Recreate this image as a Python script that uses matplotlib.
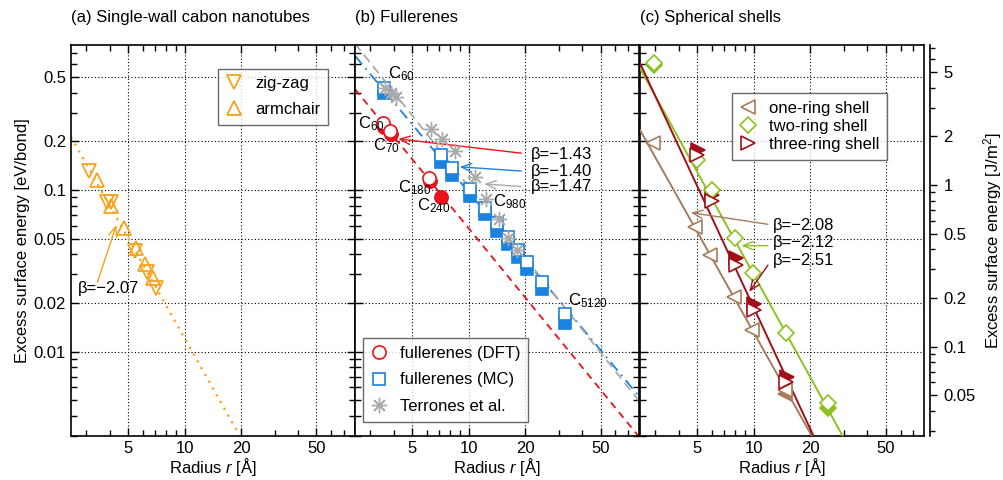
import numpy as np
import matplotlib
matplotlib.use('Agg')
import matplotlib.pyplot as plt
from matplotlib.ticker import FixedLocator, NullFormatter, FuncFormatter

plt.rcParams['font.family'] = ['Liberation Sans', 'DejaVu Sans']
plt.rcParams['font.size'] = 12
plt.rcParams['mathtext.fontset'] = 'custom'
plt.rcParams['mathtext.rm'] = 'Liberation Sans'
plt.rcParams['mathtext.it'] = 'Liberation Sans:italic'

# (a) single-wall nanotubes, energy in eV/bond
zigzag_r = [3.12, 3.89, 4.07, 5.45, 6.3, 7.04]
zigzag_e = [0.131, 0.084, 0.084, 0.042, 0.031, 0.0246]
armchair_r = [3.42, 4.07, 4.77, 5.5, 6.16, 6.76]
armchair_e = [0.115, 0.080, 0.058, 0.044, 0.0348, 0.0284]
tube_fit = (1.42, -2.07)

# (b) fullerenes, energy in eV/bond
dft_r = [3.53, 3.84, 6.18]
dft_e = [0.260, 0.232, 0.119]
dft_full_r = [3.56, 3.87, 6.22, 7.13]
dft_full_e = [0.247, 0.221, 0.113, 0.0909]
mc_r = [3.56, 7.1, 8.15, 10.15, 12.2, 14.2, 16.2, 18.3, 20.3, 24.4, 32.3]
mc_e = [0.43, 0.165, 0.137, 0.101, 0.0777, 0.0628, 0.0514, 0.0425, 0.036, 0.0268, 0.017]
mc_full_e = [0.397, 0.150, 0.124, 0.0918, 0.0707, 0.0560, 0.0463, 0.0387, 0.0322, 0.0243, 0.0151]
terrones_r = [3.6, 3.9, 4.1, 6.29, 7.27, 8.45, 10.8, 12.3, 14.5, 16.2, 18.1]
terrones_e = [0.426, 0.40, 0.375, 0.240, 0.206, 0.174, 0.120, 0.0876, 0.0659, 0.0506, 0.0425]
dft_fit = (1.56, -1.43)
mc_fit = (2.44, -1.40)
terrones_fit = (3.1, -1.47)

# (c) spherical shells, energy in J/m^2
one_r = [2.94, 4.89, 5.86, 7.86, 9.76, 14.6]
one_e = [1.81, 0.552, 0.368, 0.203, 0.126, 0.0538]
one_full_r = [14.7]
one_full_e = [0.051]
two_r = [2.97, 4.99, 5.98, 7.95, 9.95, 14.9, 24.7]
two_e = [5.72, 1.43, 0.931, 0.468, 0.284, 0.121, 0.0444]
two_full_r = [2.97, 24.7]
two_full_e = [5.55, 0.0414]
three_r = [4.99, 5.98, 8.05, 10.0, 14.9]
three_e = [1.534, 0.80, 0.319, 0.168, 0.0606]
three_full_r = [5.05, 6.05, 8.1, 10.1, 15.0]
three_full_e = [1.647, 0.867, 0.352, 0.183, 0.0649]
one_fit = (14.7, -2.08)
two_fit = (36.8, -2.12)
three_fit = (56.5, -2.51)

ev_to_jm2 = 9.31
r_lim = (2.5, 80)
e_lim = (0.003, 0.79)

c_orange = '#f7a21b'
c_red = '#e8131b'
c_blue = '#1a82e0'
c_gray = '#aaaaaa'
c_brown = '#a67c5b'
c_green = '#8dc11f'
c_darkred = '#a10f19'

x_major = [5, 10, 20, 50]
x_minor = [3, 4, 6, 7, 8, 9, 30, 40, 60, 70]
y_major = [0.01, 0.02, 0.05, 0.1, 0.2, 0.5]
y_minor = [0.003, 0.004, 0.005, 0.006, 0.007, 0.008, 0.009, 0.03, 0.04,
           0.06, 0.07, 0.08, 0.09, 0.3, 0.4, 0.6, 0.7]
yr_major = [0.05, 0.1, 0.2, 0.5, 1, 2, 5]
yr_minor = [0.03, 0.04, 0.06, 0.07, 0.08, 0.09, 0.3, 0.4, 0.6, 0.7, 0.8, 0.9,
            3, 4, 6, 7]

fmt = FuncFormatter(lambda v, p: '%g' % v)
fit_r = np.array(r_lim)


def power_law(fit):
    return fit[0] * fit_r ** fit[1]


def style_axis(ax, title):
    ax.set_xscale('log')
    ax.set_yscale('log')
    ax.set_xlim(*r_lim)
    ax.set_ylim(*e_lim)
    ax.xaxis.set_major_locator(FixedLocator(x_major))
    ax.xaxis.set_minor_locator(FixedLocator(x_minor))
    ax.xaxis.set_major_formatter(fmt)
    ax.xaxis.set_minor_formatter(NullFormatter())
    ax.yaxis.set_major_locator(FixedLocator(y_major))
    ax.yaxis.set_minor_locator(FixedLocator(y_minor))
    ax.yaxis.set_major_formatter(fmt)
    ax.yaxis.set_minor_formatter(NullFormatter())
    ax.tick_params(which='both', direction='in', top=True, right=True, width=1)
    ax.tick_params(which='major', length=6, pad=3.5)
    ax.tick_params(which='minor', length=4)
    ax.grid(True, which='major', color='black', linestyle=(0, (1, 2)), linewidth=0.8)
    for s in ax.spines.values():
        s.set_linewidth(1.2)
    ax.set_xlabel('Radius $r$ [Å]', labelpad=0)
    ax.text(0.0, 1.058, title, transform=ax.transAxes, ha='left', va='baseline')


def legend(ax, **kw):
    leg = ax.legend(frameon=True, fancybox=False, handlelength=1.0,
                    handletextpad=0.8, borderpad=0.45, borderaxespad=0, **kw)
    leg.get_frame().set_edgecolor('#444444')
    leg.get_frame().set_linewidth(1.0)
    return leg


def arrow(ax, tip, tail, color):
    ax.annotate('', xy=tip, xytext=tail,
                arrowprops=dict(arrowstyle='->,head_length=0.6,head_width=0.25',
                                color=color, lw=1.0, shrinkA=0, shrinkB=0))


fig = plt.figure(figsize=(10.04, 4.8), dpi=100)
ax_a = fig.add_axes([0.0707, 0.0917, 0.2829, 0.8146])
ax_b = fig.add_axes([0.3536, 0.0917, 0.2829, 0.8146], sharey=ax_a)
ax_c = fig.add_axes([0.6375, 0.0917, 0.2829, 0.8146], sharey=ax_a)

style_axis(ax_a, '(a) Single-wall cabon nanotubes')
style_axis(ax_b, '(b) Fullerenes')
style_axis(ax_c, '(c) Spherical shells')
ax_b.tick_params(labelleft=False)
ax_c.tick_params(labelleft=False)
ax_a.set_ylabel('Excess surface energy [eV/bond]', labelpad=3)

# (a) nanotubes
ax_a.plot(fit_r, power_law(tube_fit), color=c_orange, linestyle=(0, (1, 2.5)), lw=1.6)
ax_a.plot(zigzag_r, zigzag_e, 'v', ms=10, mfc='none', mec=c_orange, mew=1.3, label='zig-zag')
ax_a.plot(armchair_r, armchair_e, '^', ms=10, mfc='none', mec=c_orange, mew=1.3, label='armchair')
arrow(ax_a, (4.35, 0.0607), (3.45, 0.0268), c_orange)
ax_a.text(2.72, 0.0247, 'β=−2.07', ha='left', va='center')
legend(ax_a, loc='upper left', bbox_to_anchor=(0.518, 0.939), labelspacing=0.65)

# (b) fullerenes
ax_b.plot(fit_r, power_law(dft_fit), color=c_red, linestyle=(0, (4, 3)), lw=1.3, zorder=2)
ax_b.plot(fit_r, power_law(mc_fit), color=c_blue, linestyle=(0, (6, 3, 1, 3)), lw=1.3, zorder=2)
ax_b.plot(fit_r, power_law(terrones_fit), color=c_gray, linestyle=(0, (5, 3)), lw=1.3, zorder=2)
ax_b.plot(mc_r, mc_full_e, 's', ms=8.5, mfc=c_blue, mec=c_blue, mew=1.2, zorder=3)
ax_b.plot(mc_r, mc_e, 's', ms=8.5, mfc='white', mec=c_blue, mew=1.2, zorder=3,
          label='fullerenes (MC)')
ax_b.plot(terrones_r, terrones_e, ls='none', marker=(8, 2, 0), ms=11, mec=c_gray, mew=1.0,
          zorder=4, label='Terrones et al.')
ax_b.plot(dft_full_r, dft_full_e, 'o', ms=9.5, mfc=c_red, mec=c_red, mew=1.2, zorder=5)
ax_b.plot(dft_r, dft_e, 'o', ms=9.5, mfc='white', mec=c_red, mew=1.2, zorder=5,
          label='fullerenes (DFT)')

for name, r, e in [('60', 3.74, 0.494), ('60', 2.59, 0.242), ('70', 3.12, 0.177),
                   ('180', 4.24, 0.0962), ('240', 5.30, 0.0744), ('980', 13.5, 0.0796),
                   ('5120', 33.6, 0.0194)]:
    ax_b.text(r, e, 'C$_{%s}$' % name, ha='left', va='baseline', zorder=6)

arrow(ax_b, (4.24, 0.207), (19.0, 0.169), c_red)
arrow(ax_b, (8.98, 0.139), (19.0, 0.131), c_blue)
arrow(ax_b, (12.1, 0.109), (19.0, 0.105), c_gray)
ax_b.text(21.3, 0.167, 'β=−1.43', ha='left', va='center')
ax_b.text(21.3, 0.130, 'β=−1.40', ha='left', va='center')
ax_b.text(21.3, 0.105, 'β=−1.47', ha='left', va='center')

h, l = ax_b.get_legend_handles_labels()
order = [2, 0, 1]
legend(ax_b, handles=[h[i] for i in order], labels=[l[i] for i in order],
       loc='lower left', bbox_to_anchor=(0.028, 0.037), labelspacing=0.7)

# (c) spherical shells on the J/m^2 scale
ax_r = ax_c.twinx()
ax_r.set_yscale('log')
ax_r.set_ylim(e_lim[0] * ev_to_jm2, e_lim[1] * ev_to_jm2)
ax_r.yaxis.set_major_locator(FixedLocator(yr_major))
ax_r.yaxis.set_minor_locator(FixedLocator(yr_minor))
ax_r.yaxis.set_major_formatter(fmt)
ax_r.yaxis.set_minor_formatter(NullFormatter())
ax_r.spines['right'].set_position(('outward', 4))
for s in ['left', 'top', 'bottom']:
    ax_r.spines[s].set_visible(False)
ax_r.spines['right'].set_linewidth(1.2)
ax_r.tick_params(which='both', direction='out', width=1, pad=5)
ax_r.tick_params(which='major', length=5)
ax_r.tick_params(which='minor', length=3.5)
ax_r.set_ylabel('Excess surface energy [J/m$^2$]', labelpad=3.5)

ax_r.plot(fit_r, power_law(one_fit), color=c_brown, lw=1.4)
ax_r.plot(fit_r, power_law(two_fit), color=c_green, lw=1.4)
ax_r.plot(fit_r, power_law(three_fit), color=c_darkred, lw=1.4)
ax_r.plot(one_full_r, one_full_e, '<', ms=10, mfc=c_brown, mec=c_brown, mew=1.2)
ax_r.plot(two_full_r, two_full_e, 'D', ms=8, mfc=c_green, mec=c_green, mew=1.2)
ax_r.plot(three_full_r, three_full_e, '>', ms=10, mfc=c_darkred, mec=c_darkred, mew=1.2)
ax_r.plot(one_r, one_e, '<', ms=10, mfc='white', mec=c_brown, mew=1.2, label='one-ring shell')
ax_r.plot(two_r, two_e, 'D', ms=8, mfc='white', mec=c_green, mew=1.2, label='two-ring shell')
ax_r.plot(three_r, three_e, '>', ms=10, mfc='white', mec=c_darkred, mew=1.2,
          label='three-ring shell')

arrow(ax_r, (4.65, 0.674), (11.9, 0.571), c_brown)
arrow(ax_r, (8.62, 0.421), (11.9, 0.421), c_green)
arrow(ax_r, (9.48, 0.218), (11.9, 0.319), c_darkred)
ax_r.text(12.6, 0.565, 'β=−2.08', ha='left', va='center')
ax_r.text(12.6, 0.441, 'β=−2.12', ha='left', va='center')
ax_r.text(12.6, 0.343, 'β=−2.51', ha='left', va='center')
legend(ax_r, loc='upper left', bbox_to_anchor=(0.323, 0.877), labelspacing=0.2)

fig.savefig('out.png', dpi=100)
